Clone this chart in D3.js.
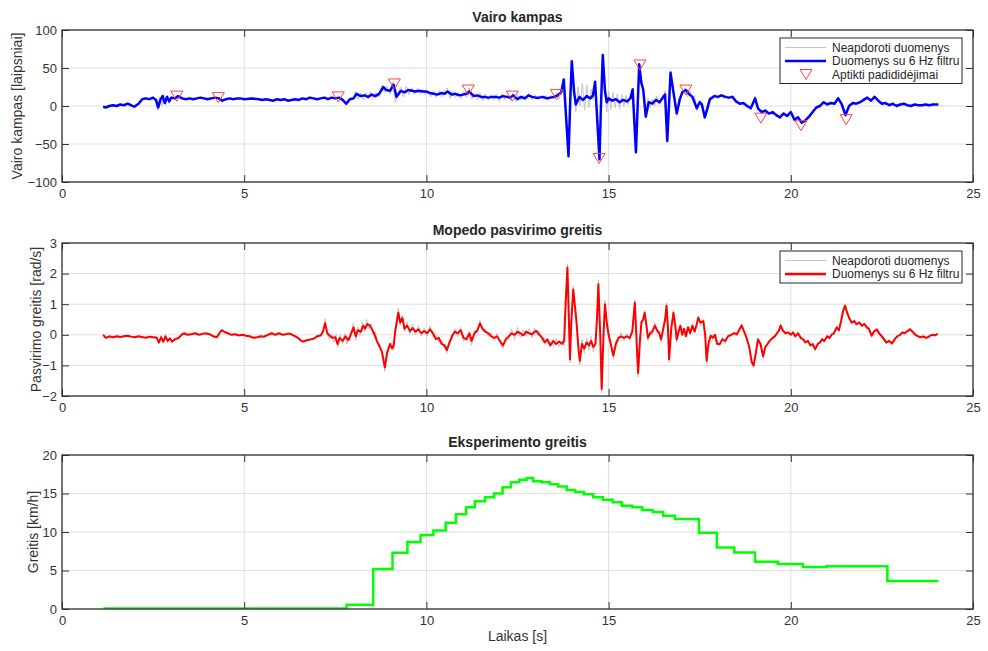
<!DOCTYPE html>
<html>
<head>
<meta charset="utf-8">
<script src="https://cdnjs.cloudflare.com/ajax/libs/d3/7.8.5/d3.min.js"></script>
<style>
  body { margin: 0; background: #fff; }
  svg { font-family: "Liberation Sans", Arial, Helvetica, sans-serif; }
  .grid line { stroke: #dedede; stroke-width: 1; }
  .axis text { font-size: 13px; fill: #333; }
  .axis line { stroke: #333; }
  .axis path { display: none; }
  .title { font-size: 14px; font-weight: bold; fill: #262626; }
  .label { font-size: 14px; fill: #333; }
  .legend text { font-size: 12px; fill: #262626; }
</style>
</head>
<body>
<svg width="988" height="651"></svg>
<script>
// ---- data ----
var xTicks = [0, 5, 10, 15, 20, 25];
var angleTicks = [-100, -50, 0, 50, 100];
var rollTicks = [-2, -1, 0, 1, 2, 3];
var speedTicks = [0, 5, 10, 15, 20];

// steering angle, filtered [t, deg]
var angleFilt = [[1.13,-1],[1.2,-2],[1.3,0],[1.4,1],[1.5,0],[1.6,2],[1.7,1],[1.8,3],[1.9,1],[1.98,-1],[2.1,3],[2.2,9],[2.3,10],[2.4,9],[2.5,11],[2.58,8],[2.64,-2],[2.7,8],[2.76,13],[2.82,4],[2.88,12],[2.94,6],[3.0,11],[3.1,10],[3.18,13],[3.3,10],[3.4,9],[3.5,10],[3.6,9],[3.7,10],[3.8,11],[3.9,10],[4.0,9],[4.1,10],[4.2,11],[4.3,10],[4.4,7],[4.5,9],[4.6,10],[4.7,9],[4.8,10],[4.9,10],[5.0,9],[5.2,10],[5.4,9],[5.5,8],[5.6,9],[5.7,8],[5.8,7],[5.9,9],[6.0,8],[6.1,9],[6.2,7],[6.3,8],[6.4,9],[6.5,8],[6.6,10],[6.7,9],[6.8,11],[6.9,10],[7.0,9],[7.1,10],[7.2,11],[7.3,9],[7.4,11],[7.5,10],[7.6,11],[7.7,8],[7.8,3],[7.9,9],[8.0,10],[8.08,16],[8.2,13],[8.3,14],[8.4,12],[8.5,15],[8.6,13],[8.7,16],[8.82,25],[8.9,21],[9.0,20],[9.1,28],[9.18,12],[9.3,20],[9.4,18],[9.5,21],[9.6,20],[9.7,19],[9.8,20],[9.9,19],[10.0,19],[10.1,17],[10.2,16],[10.3,15],[10.4,17],[10.5,16],[10.58,19],[10.7,15],[10.8,16],[10.9,14],[11.0,15],[11.1,16],[11.18,19],[11.3,13],[11.4,14],[11.5,12],[11.6,12],[11.7,11],[11.8,12],[11.9,12],[12.0,11],[12.1,13],[12.2,12],[12.3,11],[12.38,14],[12.5,9],[12.6,12],[12.7,10],[12.8,14],[12.9,12],[13.0,11],[13.1,11],[13.2,12],[13.3,10],[13.4,11],[13.5,12],[13.6,14],[13.7,18],[13.77,35],[13.84,-20],[13.9,-66],[13.95,10],[13.99,59],[14.05,20],[14.1,2],[14.2,12],[14.3,8],[14.4,13],[14.5,10],[14.57,14],[14.63,32],[14.69,-20],[14.75,-70],[14.79,0],[14.84,67],[14.9,20],[14.95,5],[15.0,10],[15.1,7],[15.2,9],[15.3,5],[15.4,8],[15.5,6],[15.6,10],[15.66,22],[15.75,-61],[15.84,55],[15.9,30],[15.95,22],[16.02,-14],[16.1,5],[16.2,3],[16.3,8],[16.4,5],[16.5,12],[16.55,15],[16.61,-46],[16.7,44],[16.78,18],[16.87,-10],[16.95,8],[17.02,18],[17.12,21],[17.2,16],[17.3,12],[17.42,-3],[17.5,5],[17.56,2],[17.64,-15],[17.7,-5],[17.78,9],[17.9,13],[18.0,12],[18.1,14],[18.2,12],[18.3,11],[18.4,12],[18.5,6],[18.6,3],[18.7,4],[18.8,0],[18.9,-3],[19.02,10],[19.1,-3],[19.2,-8],[19.3,-6],[19.4,-10],[19.5,-8],[19.6,-12],[19.7,-15],[19.8,-10],[19.9,-13],[20.0,-8],[20.1,-18],[20.2,-15],[20.3,-22],[20.4,-19],[20.5,-14],[20.6,-8],[20.7,-2],[20.8,0],[20.9,5],[21.0,2],[21.1,4],[21.2,3],[21.3,10],[21.4,2],[21.5,-12],[21.6,0],[21.7,4],[21.8,3],[21.9,5],[22.0,8],[22.1,11],[22.2,7],[22.3,12],[22.4,7],[22.5,3],[22.6,4],[22.7,1],[22.8,3],[22.9,0],[23.0,2],[23.1,3],[23.2,1],[23.3,0],[23.4,2],[23.5,1],[23.6,1],[23.7,2],[23.8,1],[23.9,2],[24.05,2]];

// steering angle, raw [t, deg]
var angleRaw = [[1.13,0],[1.2,-3],[1.3,1],[1.4,0],[1.5,1],[1.6,1],[1.7,2],[1.8,2],[1.9,2],[2.0,-2],[2.1,4],[2.2,8],[2.3,11],[2.4,8],[2.5,12],[2.57,5],[2.63,-6],[2.68,12],[2.74,0],[2.79,16],[2.84,1],[2.9,14],[2.95,3],[3.0,13],[3.1,8],[3.2,14],[3.3,9],[3.4,10],[3.5,9],[3.6,10],[3.7,9],[3.8,12],[3.9,9],[4.0,10],[4.1,11],[4.2,10],[4.3,11],[4.4,6],[4.5,10],[4.6,9],[4.7,10],[4.8,9],[4.9,11],[5.0,8],[5.2,11],[5.4,8],[5.5,9],[5.6,8],[5.7,9],[5.8,6],[5.9,10],[6.0,7],[6.1,10],[6.2,6],[6.3,9],[6.4,8],[6.5,9],[6.6,9],[6.7,10],[6.8,10],[6.9,11],[7.0,8],[7.1,11],[7.2,10],[7.3,10],[7.4,10],[7.5,11],[7.6,10],[7.7,10],[7.8,0],[7.9,11],[8.0,8],[8.05,19],[8.12,9],[8.2,17],[8.27,8],[8.34,18],[8.4,9],[8.47,19],[8.55,10],[8.62,18],[8.7,12],[8.78,28],[8.85,18],[8.92,26],[9.0,15],[9.08,32],[9.15,5],[9.22,18],[9.3,25],[9.37,12],[9.45,26],[9.52,15],[9.6,24],[9.67,15],[9.75,23],[9.82,16],[9.9,22],[9.97,15],[10.05,21],[10.12,12],[10.2,20],[10.27,11],[10.35,20],[10.42,12],[10.5,21],[10.57,24],[10.65,10],[10.72,19],[10.8,11],[10.87,18],[10.95,10],[11.02,19],[11.1,11],[11.17,24],[11.25,9],[11.32,17],[11.4,8],[11.47,17],[11.55,7],[11.62,16],[11.7,7],[11.77,15],[11.85,8],[11.92,16],[12.0,6],[12.07,16],[12.15,8],[12.22,15],[12.3,7],[12.37,17],[12.45,5],[12.52,14],[12.6,8],[12.67,14],[12.75,8],[12.82,17],[12.9,8],[12.97,15],[13.05,8],[13.12,14],[13.2,9],[13.27,14],[13.35,7],[13.42,14],[13.5,9],[13.57,17],[13.65,10],[13.72,25],[13.77,30],[13.84,-10],[13.9,-56],[13.95,15],[13.99,52],[14.04,28],[14.1,-8],[14.16,25],[14.22,0],[14.28,30],[14.34,-5],[14.4,28],[14.46,-2],[14.52,22],[14.58,8],[14.63,28],[14.69,-12],[14.75,-62],[14.79,-5],[14.84,60],[14.89,28],[14.95,-8],[15.0,20],[15.06,-5],[15.12,18],[15.18,-2],[15.24,16],[15.3,-4],[15.36,15],[15.42,0],[15.48,14],[15.54,2],[15.6,16],[15.66,18],[15.75,-54],[15.84,50],[15.9,35],[15.95,18],[16.02,-8],[16.08,10],[16.14,-2],[16.2,9],[16.26,0],[16.32,13],[16.38,2],[16.45,10],[16.5,8],[16.55,20],[16.61,-40],[16.7,40],[16.78,22],[16.87,-5],[16.95,12],[17.02,14],[17.1,24],[17.16,12],[17.24,20],[17.3,8],[17.36,14],[17.42,-6],[17.5,8],[17.56,-1],[17.64,-12],[17.7,-2],[17.78,12],[17.86,10],[17.94,16],[18.0,10],[18.08,16],[18.15,10],[18.22,14],[18.3,9],[18.38,14],[18.45,9],[18.52,4],[18.6,5],[18.7,2],[18.8,2],[18.9,-5],[19.02,13],[19.1,-5],[19.2,-6],[19.3,-9],[19.4,-8],[19.5,-11],[19.6,-10],[19.7,-17],[19.8,-8],[19.9,-15],[20.0,-6],[20.1,-20],[20.2,-13],[20.3,-24],[20.4,-17],[20.5,-16],[20.6,-6],[20.7,-4],[20.8,2],[20.9,3],[21.0,4],[21.1,2],[21.2,5],[21.3,12],[21.4,0],[21.5,-14],[21.6,2],[21.7,2],[21.8,5],[21.9,3],[22.0,10],[22.1,9],[22.2,9],[22.3,14],[22.4,5],[22.5,5],[22.6,2],[22.7,3],[22.8,1],[22.9,2],[23.0,0],[23.1,4],[23.2,0],[23.3,1],[23.4,1],[23.5,2],[23.6,0],[23.7,3],[23.8,0],[23.9,3],[24.05,1]];

// detected increases (peaks) [t, deg]
var anglePeaks = [[3.15,13],[4.29,11],[7.58,12],[9.12,29],[11.15,21],[12.36,13],[13.57,15],[14.74,-69],[15.86,54],[17.12,21],[19.18,-16],[20.28,-26],[21.52,-18]];

// roll rate, filtered [t, rad/s]
var rollFilt = [[1.13,0],[1.2,-0.1],[1.3,-0.05],[1.4,-0.08],[1.5,-0.05],[1.6,-0.07],[1.7,-0.05],[1.8,-0.03],[1.9,-0.06],[2.0,-0.08],[2.1,-0.05],[2.2,-0.07],[2.3,-0.1],[2.4,-0.06],[2.5,-0.08],[2.6,-0.1],[2.66,-0.25],[2.72,-0.08],[2.78,-0.22],[2.84,-0.05],[2.9,-0.2],[2.96,-0.12],[3.02,-0.22],[3.1,-0.15],[3.2,-0.1],[3.3,0.02],[3.35,0.05],[3.45,0],[3.55,0.02],[3.65,0.05],[3.75,0],[3.85,0.03],[3.95,0.05],[4.05,0.02],[4.15,-0.05],[4.25,-0.08],[4.32,0.05],[4.38,0.15],[4.45,0.1],[4.55,0.05],[4.65,0],[4.75,0.02],[4.85,-0.02],[4.95,0],[5.05,-0.03],[5.15,-0.05],[5.25,-0.1],[5.35,-0.08],[5.45,-0.05],[5.55,-0.06],[5.65,0],[5.75,0.05],[5.85,0],[5.95,0.05],[6.05,0],[6.15,0.02],[6.25,0.04],[6.35,-0.02],[6.45,-0.08],[6.55,-0.18],[6.62,-0.22],[6.72,-0.18],[6.82,-0.15],[6.92,-0.12],[7.0,-0.05],[7.1,-0.02],[7.16,0.1],[7.22,0.38],[7.28,0.05],[7.35,-0.03],[7.42,-0.1],[7.5,-0.08],[7.56,-0.3],[7.62,-0.1],[7.7,-0.2],[7.78,-0.05],[7.86,-0.18],[7.94,0.05],[8.0,0.24],[8.06,-0.05],[8.12,0.15],[8.2,0.1],[8.27,0.3],[8.32,0.2],[8.38,0.35],[8.45,0.3],[8.52,0.15],[8.58,0],[8.64,-0.2],[8.72,-0.4],[8.78,-0.55],[8.86,-1.07],[8.92,-0.6],[9.0,-0.3],[9.06,-0.45],[9.1,-0.35],[9.15,0.15],[9.23,0.72],[9.28,0.4],[9.34,0.55],[9.4,0.2],[9.47,0.3],[9.55,0.12],[9.62,0.22],[9.7,0.1],[9.78,0.18],[9.86,0.05],[9.94,0.12],[10.02,0.05],[10.1,0.18],[10.18,0.05],[10.26,-0.14],[10.34,-0.1],[10.42,-0.3],[10.5,-0.35],[10.56,-0.5],[10.62,-0.3],[10.7,-0.05],[10.78,0.1],[10.86,0.05],[10.94,0.15],[11.02,-0.1],[11.1,-0.15],[11.18,0.05],[11.24,-0.2],[11.32,0.05],[11.4,0.15],[11.47,0.37],[11.54,0.2],[11.62,0.1],[11.7,0.05],[11.78,-0.05],[11.86,-0.1],[11.94,-0.05],[12.02,-0.2],[12.1,-0.35],[12.18,-0.15],[12.26,-0.05],[12.34,0.05],[12.42,0],[12.5,0.1],[12.58,0.05],[12.66,-0.02],[12.74,0.1],[12.82,0.05],[12.9,0.02],[12.97,0.1],[13.02,0.13],[13.1,0],[13.18,-0.1],[13.25,-0.25],[13.32,-0.15],[13.4,-0.35],[13.48,-0.2],[13.56,-0.3],[13.64,-0.22],[13.72,-0.3],[13.78,-0.2],[13.82,1.0],[13.87,2.2],[13.91,0.5],[13.94,-0.8],[13.98,0.5],[14.03,1.48],[14.08,0.9],[14.12,0.4],[14.17,-0.4],[14.21,-0.85],[14.27,-0.3],[14.33,-0.45],[14.4,-0.25],[14.46,-0.35],[14.52,-0.2],[14.58,-0.4],[14.64,-0.3],[14.68,0.5],[14.72,1.65],[14.77,0],[14.81,-1.77],[14.86,0],[14.9,1.0],[14.95,0.4],[15.0,0],[15.06,-0.3],[15.13,-0.68],[15.2,-0.3],[15.27,-0.1],[15.34,-0.05],[15.42,-0.1],[15.5,-0.05],[15.58,-0.1],[15.65,0.1],[15.72,1.05],[15.76,0],[15.81,-1.25],[15.86,-0.2],[15.9,0.4],[15.95,0.5],[15.99,0.72],[16.04,0.3],[16.08,-0.1],[16.14,0.05],[16.2,0.1],[16.27,0.3],[16.33,0.15],[16.39,0.05],[16.44,-0.15],[16.5,0.2],[16.55,0.5],[16.59,0.95],[16.63,0.2],[16.66,-0.8],[16.72,0.2],[16.78,0.72],[16.83,0.3],[16.87,-0.15],[16.92,0.1],[16.97,0.3],[17.02,0],[17.07,0.2],[17.12,-0.05],[17.18,0.25],[17.24,0.05],[17.3,0.3],[17.36,0.1],[17.42,0.35],[17.46,0.56],[17.52,0.4],[17.6,0.45],[17.65,0],[17.69,-0.85],[17.74,-0.3],[17.8,-0.03],[17.86,-0.1],[17.92,0],[17.98,-0.3],[18.05,-0.3],[18.12,-0.15],[18.2,-0.2],[18.28,-0.05],[18.36,0],[18.44,0.05],[18.52,0.02],[18.58,0.15],[18.65,0.3],[18.72,0.1],[18.78,-0.08],[18.86,-0.4],[18.93,-0.9],[18.98,-1.0],[19.04,-0.6],[19.1,-0.15],[19.17,-0.3],[19.24,-0.7],[19.3,-0.4],[19.36,-0.3],[19.42,-0.2],[19.5,-0.1],[19.56,-0.05],[19.62,0.05],[19.68,0.15],[19.72,0.3],[19.78,0.15],[19.85,0.05],[19.92,0.08],[20.0,0],[20.06,0.08],[20.12,-0.05],[20.2,0.05],[20.27,-0.1],[20.34,-0.15],[20.4,-0.25],[20.47,-0.2],[20.54,-0.35],[20.6,-0.3],[20.67,-0.47],[20.74,-0.3],[20.8,-0.25],[20.86,-0.15],[20.92,-0.2],[21.0,-0.05],[21.06,-0.1],[21.12,0],[21.18,0.05],[21.26,0.24],[21.32,0.15],[21.38,0.45],[21.44,0.8],[21.49,0.95],[21.54,0.75],[21.6,0.55],[21.67,0.4],[21.74,0.45],[21.8,0.35],[21.88,0.4],[21.95,0.3],[22.02,0.35],[22.08,0.25],[22.14,0.2],[22.22,-0.03],[22.28,0.1],[22.36,0.18],[22.42,0.05],[22.5,-0.05],[22.56,-0.15],[22.62,-0.25],[22.7,-0.2],[22.78,-0.28],[22.85,-0.15],[22.92,-0.05],[23.0,0],[23.06,0.08],[23.12,0.05],[23.2,0.12],[23.27,0.18],[23.34,0.1],[23.42,0],[23.5,-0.05],[23.56,-0.08],[23.64,-0.05],[23.7,-0.1],[23.76,-0.08],[23.84,-0.02],[23.9,0],[23.96,-0.02],[24.03,0.03]];

// roll rate, raw [t, rad/s]
var rollRaw = [[1.13,0.02],[1.25,-0.12],[1.4,-0.05],[1.55,-0.1],[1.7,-0.02],[1.85,-0.08],[2.0,-0.05],[2.15,-0.1],[2.3,-0.06],[2.45,-0.1],[2.6,-0.05],[2.66,-0.3],[2.72,-0.02],[2.78,-0.28],[2.84,0],[2.9,-0.26],[2.96,-0.08],[3.02,-0.27],[3.1,-0.1],[3.2,-0.15],[3.3,0.05],[3.4,-0.02],[3.5,0.05],[3.6,0],[3.7,0.07],[3.8,-0.02],[3.9,0.06],[4.0,0],[4.1,0.03],[4.2,-0.1],[4.3,0],[4.38,0.18],[4.5,0.05],[4.6,0.05],[4.7,-0.02],[4.8,0.03],[4.9,-0.03],[5.0,0.02],[5.1,-0.06],[5.2,-0.03],[5.3,-0.12],[5.4,-0.06],[5.5,-0.08],[5.6,0.02],[5.7,-0.02],[5.8,0.07],[5.9,-0.02],[6.0,0.07],[6.1,-0.02],[6.2,0.05],[6.3,0.02],[6.4,-0.05],[6.5,-0.12],[6.6,-0.25],[6.7,-0.15],[6.8,-0.2],[6.9,-0.1],[7.0,-0.08],[7.1,0.02],[7.18,0.2],[7.22,0.52],[7.28,0],[7.34,-0.15],[7.4,0.05],[7.46,-0.25],[7.52,0.02],[7.58,-0.4],[7.64,0],[7.7,-0.3],[7.76,0.05],[7.82,-0.3],[7.88,-0.05],[7.94,0.15],[8.0,0.38],[8.06,-0.18],[8.12,0.25],[8.18,-0.02],[8.24,0.42],[8.3,0.1],[8.36,0.5],[8.42,0.2],[8.48,0.38],[8.54,0.05],[8.6,0.1],[8.66,-0.3],[8.72,-0.3],[8.78,-0.65],[8.86,-1.2],[8.92,-0.5],[8.98,-0.45],[9.04,-0.25],[9.1,-0.5],[9.15,0.25],[9.23,0.88],[9.28,0.3],[9.34,0.65],[9.4,0.1],[9.47,0.42],[9.55,0.02],[9.62,0.35],[9.7,0],[9.78,0.3],[9.86,-0.05],[9.94,0.22],[10.02,-0.05],[10.1,0.3],[10.18,-0.08],[10.26,0],[10.34,-0.25],[10.42,-0.2],[10.5,-0.45],[10.56,-0.6],[10.62,-0.2],[10.7,-0.15],[10.78,0.2],[10.86,-0.05],[10.94,0.25],[11.02,-0.22],[11.1,-0.05],[11.18,-0.05],[11.24,-0.35],[11.32,0.15],[11.4,0.05],[11.47,0.48],[11.54,0.1],[11.62,0.2],[11.7,-0.05],[11.78,0.08],[11.86,-0.2],[11.94,0.05],[12.02,-0.3],[12.1,-0.45],[12.18,-0.05],[12.26,-0.18],[12.34,0.2],[12.42,-0.15],[12.5,0.25],[12.58,-0.1],[12.66,0.15],[12.74,-0.05],[12.82,0.2],[12.9,-0.1],[12.97,0.22],[13.02,0.05],[13.1,0.12],[13.18,-0.25],[13.25,-0.1],[13.32,-0.3],[13.4,-0.2],[13.48,-0.35],[13.56,-0.12],[13.64,-0.38],[13.72,-0.18],[13.78,-0.35],[13.82,0.8],[13.87,2.32],[13.91,0.6],[13.94,-0.92],[13.98,0.4],[14.03,1.6],[14.08,0.8],[14.12,0.5],[14.17,-0.5],[14.21,-0.98],[14.27,-0.15],[14.33,-0.6],[14.4,-0.1],[14.46,-0.5],[14.52,-0.05],[14.58,-0.55],[14.64,-0.15],[14.68,0.4],[14.72,1.8],[14.77,0.1],[14.81,-1.9],[14.86,-0.1],[14.9,1.12],[14.95,0.3],[15.0,0.1],[15.06,-0.4],[15.13,-0.8],[15.2,-0.2],[15.27,-0.22],[15.34,0.08],[15.42,-0.2],[15.5,0.05],[15.58,-0.2],[15.65,0.2],[15.72,1.15],[15.76,-0.1],[15.81,-1.38],[15.86,-0.1],[15.9,0.3],[15.95,0.6],[15.99,0.8],[16.04,0.2],[16.08,-0.2],[16.14,0.15],[16.2,0],[16.27,0.4],[16.33,0.05],[16.39,0.15],[16.44,-0.25],[16.5,0.3],[16.55,0.4],[16.59,1.05],[16.63,0.1],[16.66,-0.9],[16.72,0.3],[16.78,0.8],[16.83,0.2],[16.87,-0.25],[16.92,0.2],[16.97,0.2],[17.02,0.1],[17.07,0.1],[17.12,0.05],[17.18,0.15],[17.24,0.15],[17.3,0.2],[17.36,0.2],[17.42,0.25],[17.46,0.62],[17.52,0.3],[17.6,0.5],[17.65,-0.1],[17.69,-0.95],[17.74,-0.2],[17.8,-0.1],[17.86,0],[17.92,-0.1],[17.98,-0.25],[18.05,-0.38],[18.12,-0.08],[18.2,-0.28],[18.28,0.02],[18.36,-0.05],[18.44,0.1],[18.52,-0.03],[18.58,0.2],[18.65,0.38],[18.72,0.05],[18.78,-0.02],[18.86,-0.45],[18.93,-0.95],[18.98,-1.08],[19.04,-0.55],[19.1,-0.1],[19.17,-0.35],[19.24,-0.78],[19.3,-0.35],[19.36,-0.35],[19.42,-0.15],[19.5,-0.15],[19.56,0],[19.62,0],[19.68,0.2],[19.72,0.36],[19.78,0.1],[19.85,0.1],[19.92,0.03],[20.0,0.05],[20.06,0.03],[20.12,0],[20.2,0],[20.27,-0.05],[20.34,-0.2],[20.4,-0.2],[20.47,-0.25],[20.54,-0.3],[20.6,-0.35],[20.67,-0.52],[20.74,-0.25],[20.8,-0.3],[20.86,-0.1],[20.92,-0.25],[21.0,0],[21.06,-0.15],[21.12,0.05],[21.18,0],[21.26,0.3],[21.32,0.1],[21.38,0.5],[21.44,0.75],[21.49,1.02],[21.54,0.7],[21.6,0.6],[21.67,0.35],[21.74,0.5],[21.8,0.3],[21.88,0.45],[21.95,0.25],[22.02,0.4],[22.08,0.2],[22.14,0.25],[22.22,-0.08],[22.28,0.15],[22.36,0.13],[22.42,0.1],[22.5,-0.1],[22.56,-0.1],[22.62,-0.3],[22.7,-0.15],[22.78,-0.32],[22.85,-0.1],[22.92,-0.08],[23.0,0.03],[23.06,0.05],[23.12,0.08],[23.2,0.08],[23.27,0.22],[23.34,0.06],[23.42,0.03],[23.5,-0.08],[23.56,-0.05],[23.64,-0.08],[23.7,-0.07],[23.76,-0.1],[23.84,0],[23.9,-0.02],[23.96,0],[24.03,0.05]];

// experiment speed, step start time and value [km/h]
var speedT = [1.13, 7.81, 8.54, 9.07, 9.48, 9.84, 10.19, 10.53, 10.81, 11.09, 11.33, 11.61, 11.86, 12.09, 12.32, 12.55, 12.75, 12.93, 13.16, 13.39, 13.62, 13.85, 14.08, 14.32, 14.58, 14.84, 15.11, 15.36, 15.65, 15.92, 16.21, 16.5, 16.82, 17.48, 17.97, 18.45, 19.02, 19.64, 20.33, 20.98, 22.65, 24.05];
var speedV = [0.05, 0.55, 5.2, 7.3, 8.7, 9.6, 10.2, 11.2, 12.3, 13.2, 14.0, 14.5, 15.0, 15.8, 16.45, 16.8, 17.0, 16.6, 16.45, 16.2, 15.9, 15.45, 15.2, 14.9, 14.5, 14.2, 13.85, 13.4, 13.2, 12.85, 12.6, 12.1, 11.7, 9.9, 8.0, 7.35, 6.15, 5.85, 5.45, 5.55, 3.65, 3.65];

// ---- layout ----
var svg = d3.select("svg");
var left = 62, right = 973;
var x = d3.scaleLinear().domain([0, 25]).range([left, right]);
var fmt = d3.format("~g");

function makePanel(top, bottom, yDomain, yTicks, title, ylabel, ylabelX) {
  var y = d3.scaleLinear().domain(yDomain).range([bottom, top]);
  var g = svg.append("g");

  // grid
  var grid = g.append("g").attr("class", "grid");
  grid.selectAll(".gx").data(xTicks).enter().append("line")
    .attr("x1", d => x(d)).attr("x2", d => x(d))
    .attr("y1", top).attr("y2", bottom);
  grid.selectAll(".gy").data(yTicks).enter().append("line")
    .attr("x1", left).attr("x2", right)
    .attr("y1", d => y(d)).attr("y2", d => y(d));

  var clipId = "clip" + top;
  svg.append("clipPath").attr("id", clipId)
    .append("rect").attr("x", left).attr("y", top)
    .attr("width", right - left).attr("height", bottom - top);
  var plot = g.append("g").attr("clip-path", "url(#" + clipId + ")");

  // axes, ticks pointing inwards on all sides
  g.append("g").attr("class", "axis")
    .attr("transform", "translate(0," + bottom + ")")
    .call(d3.axisBottom(x).tickValues(xTicks).tickSizeInner(-7).tickSizeOuter(0).tickPadding(7).tickFormat(fmt));
  g.append("g").attr("class", "axis")
    .attr("transform", "translate(0," + top + ")")
    .call(d3.axisTop(x).tickValues(xTicks).tickSizeInner(-7).tickSizeOuter(0).tickFormat(""));
  g.append("g").attr("class", "axis")
    .attr("transform", "translate(" + left + ",0)")
    .call(d3.axisLeft(y).tickValues(yTicks).tickSizeInner(-7).tickSizeOuter(0).tickPadding(5).tickFormat(fmt));
  g.append("g").attr("class", "axis")
    .attr("transform", "translate(" + right + ",0)")
    .call(d3.axisRight(y).tickValues(yTicks).tickSizeInner(-7).tickSizeOuter(0).tickFormat(""));

  g.append("rect")
    .attr("x", left).attr("y", top)
    .attr("width", right - left).attr("height", bottom - top)
    .attr("fill", "none").attr("stroke", "#333").attr("stroke-width", 1.3);

  g.append("text").attr("class", "title")
    .attr("x", (left + right) / 2).attr("y", top - 8)
    .attr("text-anchor", "middle").text(title);

  g.append("text").attr("class", "label")
    .attr("transform", "translate(" + ylabelX + "," + ((top + bottom) / 2) + ") rotate(-90)")
    .attr("text-anchor", "middle").attr("dy", "0.35em").text(ylabel);

  return { y: y, plot: plot, g: g };
}

function lineOf(y) {
  return d3.line().x(d => x(d[0])).y(d => y(d[1]));
}

function legend(x0, y0, w, items) {
  var lg = svg.append("g").attr("class", "legend");
  var rowH = 13.5;
  lg.append("rect")
    .attr("x", x0).attr("y", y0).attr("width", w).attr("height", items.length * rowH + 5)
    .attr("fill", "#fff").attr("stroke", "#262626").attr("stroke-width", 1);
  items.forEach(function(it, i) {
    var cy = y0 + 9.5 + i * rowH;
    if (it.marker) {
      lg.append("path").attr("d", "M-6,-5L6,-5L0,5Z")
        .attr("transform", "translate(" + (x0 + 26) + "," + cy + ")")
        .attr("fill", "none").attr("stroke", "#ff4040").attr("stroke-width", 1);
    } else {
      lg.append("line").attr("x1", x0 + 5).attr("x2", x0 + 46)
        .attr("y1", cy).attr("y2", cy)
        .attr("stroke", it.color).attr("stroke-width", it.width);
    }
    lg.append("text").attr("x", x0 + 52).attr("y", cy).attr("dy", "0.35em").text(it.label);
  });
}

// ---- panel 1: steering angle ----
var p1 = makePanel(30, 182, [-100, 100], angleTicks, "Vairo kampas", "Vairo kampas [laipsniai]", 17);
p1.plot.append("path").datum(angleRaw)
  .attr("d", lineOf(p1.y)).attr("fill", "none").attr("stroke", "#c4c4c4").attr("stroke-width", 1);
p1.plot.append("path").datum(angleFilt)
  .attr("d", lineOf(p1.y)).attr("fill", "none").attr("stroke", "#0000ff").attr("stroke-width", 2.5)
  .attr("stroke-linejoin", "round");
p1.plot.selectAll(".peak").data(anglePeaks).enter().append("path")
  .attr("d", "M-6,-5L6,-5L0,5Z")
  .attr("transform", d => "translate(" + x(d[0]) + "," + p1.y(d[1]) + ")")
  .attr("fill", "none").attr("stroke", "#ff4040").attr("stroke-width", 1);
legend(780, 38, 182, [
  { label: "Neapdoroti duomenys", color: "#c4c4c4", width: 1 },
  { label: "Duomenys su 6 Hz filtru", color: "#0000ff", width: 2.5 },
  { label: "Aptikti padididėjimai", marker: true }
]);

// ---- panel 2: roll rate ----
var p2 = makePanel(243, 396, [-2, 3], rollTicks, "Mopedo pasvirimo greitis", "Pasvirimo greitis [rad/s]", 36);
p2.plot.append("path").datum(rollRaw)
  .attr("d", lineOf(p2.y)).attr("fill", "none").attr("stroke", "#c4c4c4").attr("stroke-width", 1);
p2.plot.append("path").datum(rollFilt)
  .attr("d", lineOf(p2.y)).attr("fill", "none").attr("stroke", "#ff0000").attr("stroke-width", 2)
  .attr("stroke-linejoin", "round");
legend(780, 251, 182, [
  { label: "Neapdoroti duomenys", color: "#c4c4c4", width: 1 },
  { label: "Duomenys su 6 Hz filtru", color: "#ff0000", width: 2.5 }
]);

// ---- panel 3: speed ----
var p3 = makePanel(455, 609, [0, 20], speedTicks, "Eksperimento greitis", "Greitis [km/h]", 33);
var speedData = speedT.map((t, i) => [t, speedV[i]]);
p3.plot.append("path").datum(speedData)
  .attr("d", lineOf(p3.y).curve(d3.curveStepAfter))
  .attr("fill", "none").attr("stroke", "#00ff00").attr("stroke-width", 2.5);

svg.append("text").attr("class", "label")
  .attr("x", (left + right) / 2).attr("y", 636)
  .attr("text-anchor", "middle").attr("dy", "0.35em").text("Laikas [s]");
</script>
</body>
</html>
